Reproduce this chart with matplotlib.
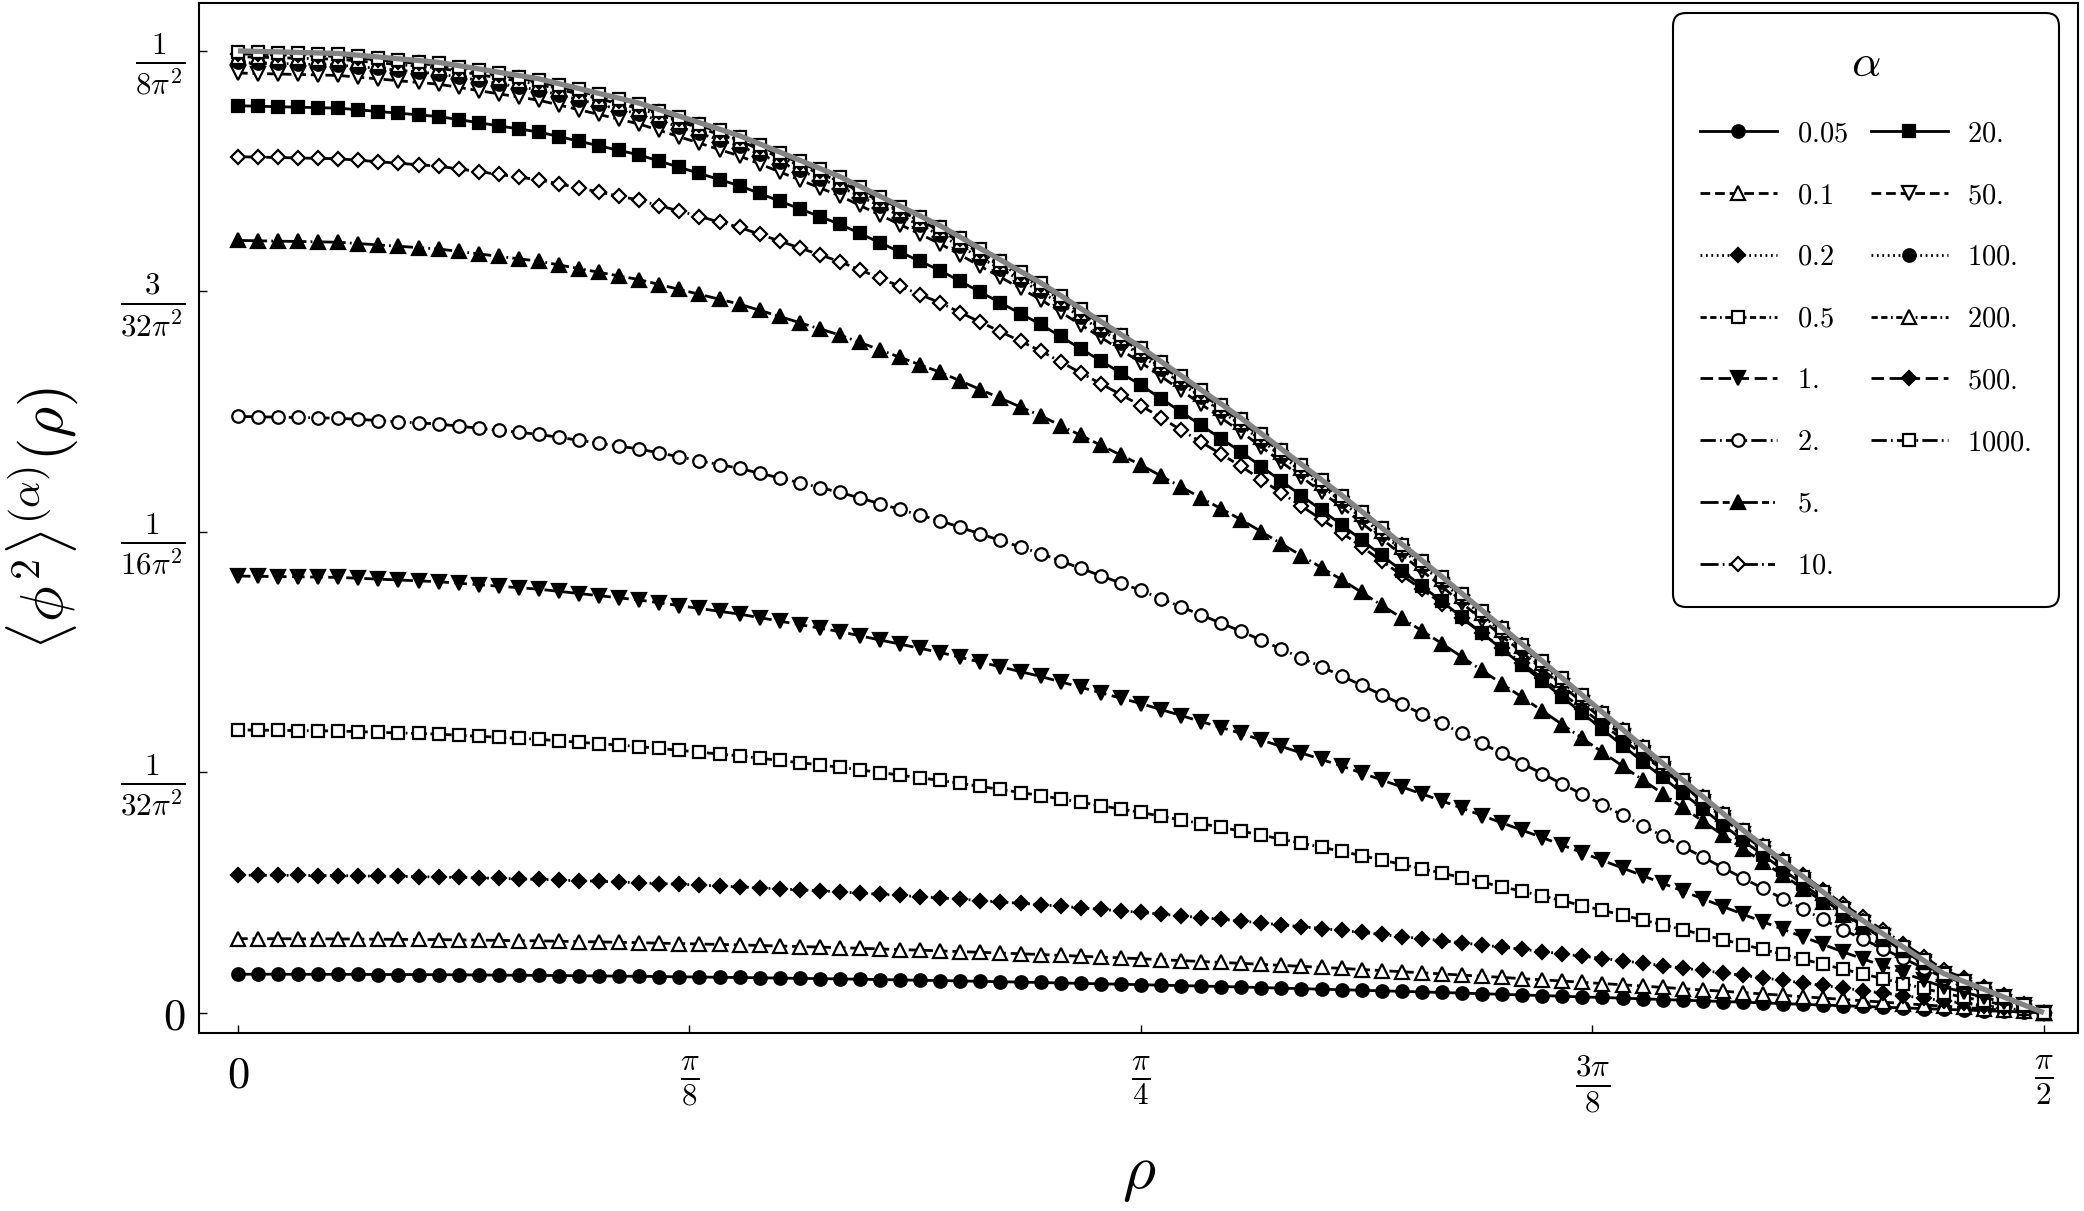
import numpy as np
import matplotlib
matplotlib.use("Agg")
import matplotlib.pyplot as plt
from matplotlib.lines import Line2D

plt.rcParams["mathtext.fontset"] = "cm"
plt.rcParams["font.family"] = "DejaVu Serif"
plt.rcParams["lines.scale_dashes"] = False

# sample points, one degree apart from 0 to pi/2
rho_deg = np.arange(0, 91)
rho = np.deg2rad(rho_deg)

# <phi^2> in units of 1e-3 / (8 pi^2)
a005 = [40.0, 40.0, 40.0, 39.9, 39.9, 39.9, 39.8, 39.7, 39.7, 39.6,
        39.5, 39.4, 39.2, 39.1, 38.9, 38.8, 38.6, 38.4, 38.2, 38.0,
        37.8, 37.6, 37.3, 37.1, 36.8, 36.6, 36.3, 36.0, 35.7, 35.4,
        35.1, 34.8, 34.4, 34.1, 33.7, 33.4, 33.0, 32.6, 32.2, 31.8,
        31.4, 30.9, 30.5, 30.0, 29.6, 29.1, 28.6, 28.1, 27.7, 27.2,
        26.7, 26.1, 25.5, 25.0, 24.4, 23.9, 23.3, 22.7, 22.2, 21.6,
        21.0, 20.4, 19.7, 19.1, 18.4, 17.8, 17.1, 16.4, 15.8, 15.1,
        14.4, 13.7, 13.0, 12.3, 11.6, 10.9, 10.2, 9.4, 8.7, 7.9,
        7.2, 6.5, 5.7, 5.0, 4.2, 3.5, 2.8, 2.1, 1.4, 0.7, 0.0]
a01 = [77.0, 76.9, 76.9, 76.8, 76.8, 76.7, 76.6, 76.4, 76.3, 76.1,
       76.0, 75.7, 75.5, 75.2, 74.9, 74.7, 74.3, 73.9, 73.6, 73.2,
       72.8, 72.3, 71.9, 71.4, 71.0, 70.5, 69.9, 69.3, 68.8, 68.2,
       67.6, 67.0, 66.3, 65.6, 65.0, 64.3, 63.5, 62.8, 62.0, 61.3,
       60.5, 59.6, 58.7, 57.8, 57.0, 56.1, 55.1, 54.2, 53.2, 52.3,
       51.3, 50.3, 49.2, 48.2, 47.1, 46.1, 44.9, 43.8, 42.6, 41.5,
       40.3, 39.1, 37.9, 36.7, 35.4, 34.2, 32.9, 31.6, 30.3, 29.0,
       27.7, 26.3, 25.0, 23.6, 22.3, 20.9, 19.5, 18.1, 16.6, 15.2,
       13.8, 12.4, 11.0, 9.5, 8.1, 6.7, 5.4, 4.0, 2.7, 1.3, 0.0]
a02 = [143.0, 142.9, 142.8, 142.7, 142.6, 142.5, 142.2, 141.9, 141.7, 141.4,
       141.1, 140.6, 140.1, 139.6, 139.1, 138.6, 137.9, 137.2, 136.6, 135.9,
       135.2, 134.3, 133.5, 132.6, 131.8, 130.9, 129.8, 128.8, 127.7, 126.7,
       125.6, 124.4, 123.1, 121.9, 120.6, 119.4, 118.0, 116.6, 115.1, 113.7,
       112.3, 110.7, 109.1, 107.4, 105.8, 104.2, 102.4, 100.6, 98.9, 97.1,
       95.3, 93.3, 91.4, 89.4, 87.5, 85.5, 83.4, 81.3, 79.1, 77.0,
       74.9, 72.6, 70.4, 68.1, 65.9, 63.6, 61.2, 58.8, 56.3, 53.9,
       51.5, 49.0, 46.4, 43.9, 41.3, 38.8, 36.2, 33.6, 30.9, 28.3,
       25.7, 23.0, 20.4, 17.7, 15.1, 12.4, 9.9, 7.4, 5.0, 2.5, 0.0]
a05 = [294.0, 293.8, 293.6, 293.3, 293.1, 292.9, 292.2, 291.6, 290.9, 290.3,
       289.6, 288.5, 287.4, 286.4, 285.3, 284.2, 282.7, 281.2, 279.7, 278.2,
       276.7, 274.8, 272.8, 270.9, 268.9, 267.0, 264.6, 262.3, 259.9, 257.6,
       255.2, 252.5, 249.7, 247.0, 244.2, 241.5, 238.4, 235.2, 232.1, 228.9,
       225.8, 222.3, 218.8, 215.2, 211.7, 208.2, 204.3, 200.4, 196.6, 192.7,
       188.8, 184.6, 180.4, 176.2, 172.0, 167.8, 163.3, 158.8, 154.2, 149.7,
       145.2, 140.4, 135.7, 130.9, 126.2, 121.4, 116.4, 111.4, 106.5, 101.5,
       96.5, 91.4, 86.3, 81.1, 76.0, 70.9, 65.8, 60.6, 55.5, 50.3,
       45.2, 40.2, 35.3, 30.3, 25.3, 20.3, 16.2, 12.2, 8.1, 4.1, 0.0]
a1 = [454.0, 453.7, 453.4, 453.2, 452.9, 452.6, 451.7, 450.8, 449.9, 449.0,
      448.1, 446.5, 445.0, 443.4, 441.9, 440.3, 438.1, 435.8, 433.6, 431.3,
      429.1, 426.2, 423.2, 420.3, 417.3, 414.4, 410.8, 407.1, 403.5, 399.8,
      396.2, 391.9, 387.5, 383.2, 378.8, 374.5, 369.5, 364.5, 359.6, 354.6,
      349.6, 344.0, 338.3, 332.7, 327.0, 321.4, 315.2, 309.0, 302.7, 296.5,
      290.3, 283.5, 276.8, 270.0, 263.3, 256.5, 249.2, 242.0, 234.7, 227.5,
      220.2, 212.6, 205.0, 197.3, 189.7, 182.1, 174.2, 166.3, 158.3, 150.4,
      142.5, 134.5, 126.5, 118.4, 110.4, 102.4, 94.5, 86.7, 78.8, 71.0,
      63.1, 55.8, 48.5, 41.3, 34.0, 26.7, 21.4, 16.0, 10.7, 5.3, 0.0]
a2 = [620.0, 619.6, 619.2, 618.9, 618.5, 618.1, 616.9, 615.7, 614.4, 613.2,
      612.0, 609.9, 607.7, 605.6, 603.4, 601.3, 598.2, 595.2, 592.1, 589.1,
      586.0, 582.0, 578.0, 573.9, 569.9, 565.9, 560.9, 556.0, 551.0, 546.0,
      541.0, 535.1, 529.2, 523.2, 517.3, 511.4, 504.6, 497.8, 491.0, 484.2,
      477.4, 469.7, 462.0, 454.4, 446.7, 439.0, 430.5, 422.0, 413.5, 405.0,
      396.5, 387.3, 378.0, 368.8, 359.5, 350.3, 340.4, 330.5, 320.6, 310.7,
      300.8, 290.4, 279.9, 269.5, 259.0, 248.6, 237.8, 227.0, 216.2, 205.4,
      194.6, 183.7, 172.7, 161.8, 150.8, 139.9, 129.2, 118.4, 107.7, 96.9,
      86.2, 76.3, 66.3, 56.4, 46.4, 36.5, 29.2, 21.9, 14.6, 7.3, 0.0]
a5 = [803.0, 802.6, 802.2, 801.9, 801.5, 801.1, 799.7, 798.3, 796.9, 795.5,
      794.1, 791.5, 789.0, 786.4, 783.9, 781.3, 777.5, 773.7, 769.8, 766.0,
      762.2, 757.1, 752.0, 746.9, 741.8, 736.7, 730.3, 723.9, 717.4, 711.0,
      704.6, 696.9, 689.1, 681.4, 673.6, 665.9, 656.9, 647.9, 638.8, 629.8,
      620.8, 610.5, 600.3, 590.0, 579.8, 569.5, 558.1, 546.7, 535.3, 523.9,
      512.5, 500.1, 487.6, 475.2, 462.7, 450.3, 437.0, 423.7, 410.4, 397.1,
      383.8, 369.8, 355.8, 341.9, 327.9, 313.9, 299.5, 285.2, 270.8, 256.5,
      242.1, 227.8, 213.4, 199.1, 184.7, 170.4, 156.6, 142.9, 129.1, 115.4,
      101.6, 89.4, 77.1, 64.9, 52.6, 40.4, 32.3, 24.2, 16.2, 8.1, 0.0]
a10 = [890.0, 889.6, 889.2, 888.7, 888.3, 887.9, 886.3, 884.8, 883.2, 881.7,
       880.1, 877.3, 874.5, 871.6, 868.8, 866.0, 861.8, 857.5, 853.3, 849.0,
       844.8, 839.1, 833.5, 827.8, 822.2, 816.5, 809.4, 802.3, 795.1, 788.0,
       780.9, 772.3, 763.7, 755.2, 746.6, 738.0, 728.0, 718.0, 708.1, 698.1,
       688.1, 676.7, 665.3, 654.0, 642.6, 631.2, 618.6, 605.9, 593.3, 580.6,
       568.0, 554.2, 540.4, 526.7, 512.9, 499.1, 484.4, 469.6, 454.9, 440.1,
       425.4, 409.9, 394.4, 378.9, 363.4, 347.9, 332.0, 316.1, 300.1, 284.2,
       268.3, 252.4, 236.5, 220.7, 204.8, 188.9, 173.6, 158.4, 143.1, 127.8,
       112.6, 99.0, 85.5, 71.9, 58.4, 44.8, 35.8, 26.9, 17.9, 9.0, 0.0]
a20 = [943.0, 942.5, 942.0, 941.5, 941.0, 940.5, 938.8, 937.0, 935.3, 933.5,
       931.8, 928.6, 925.4, 922.1, 918.9, 915.7, 910.9, 906.1, 901.3, 896.6,
       891.8, 885.4, 879.0, 872.6, 866.2, 859.8, 851.8, 843.8, 835.8, 827.8,
       819.8, 810.2, 800.5, 790.9, 781.2, 771.6, 760.4, 749.2, 738.1, 726.9,
       715.7, 703.1, 690.4, 677.8, 665.1, 652.5, 638.6, 624.7, 610.7, 596.8,
       582.9, 567.8, 552.7, 537.6, 522.5, 507.4, 491.4, 475.5, 459.5, 443.6,
       427.6, 411.0, 394.5, 377.9, 361.4, 344.8, 328.0, 311.3, 294.5, 277.8,
       261.0, 244.6, 228.2, 211.9, 195.5, 179.1, 163.9, 148.6, 133.4, 118.2,
       102.9, 90.0, 77.1, 64.2, 51.3, 38.4, 30.7, 23.0, 15.4, 7.7, 0.0]
a50 = [977.0, 976.5, 976.0, 975.5, 975.0, 974.5, 972.7, 970.9, 969.0, 967.2,
       965.4, 962.1, 958.7, 955.4, 952.0, 948.7, 943.8, 938.8, 933.9, 928.9,
       924.0, 917.4, 910.7, 904.1, 897.4, 890.8, 882.5, 874.2, 865.9, 857.6,
       849.3, 839.3, 829.3, 819.4, 809.4, 799.4, 787.8, 776.2, 764.7, 753.1,
       741.5, 728.4, 715.3, 702.2, 689.1, 676.0, 661.6, 647.2, 632.7, 618.3,
       603.9, 588.3, 572.6, 557.0, 541.3, 525.7, 509.2, 492.6, 476.1, 459.5,
       443.0, 425.8, 408.7, 391.5, 374.4, 357.2, 339.8, 322.5, 305.1, 287.8,
       270.4, 253.4, 236.4, 219.5, 202.5, 185.5, 169.7, 153.9, 138.2, 122.4,
       106.6, 93.2, 79.9, 66.5, 53.2, 39.8, 31.8, 23.9, 15.9, 8.0, 0.0]
a100 = [988.0, 987.5, 987.0, 986.4, 985.9, 985.4, 983.6, 981.8, 979.9, 978.1,
        976.2, 972.9, 969.5, 966.0, 962.7, 959.3, 954.3, 949.4, 944.3, 939.4,
        934.3, 927.6, 920.9, 914.3, 907.6, 900.9, 892.5, 884.1, 875.7, 867.3,
        858.9, 848.8, 838.7, 828.5, 818.5, 808.4, 796.7, 785.0, 773.3, 761.6,
        749.9, 736.7, 723.4, 710.1, 696.8, 683.6, 669.0, 654.5, 639.8, 625.3,
        610.7, 594.9, 579.1, 563.3, 547.5, 531.6, 514.9, 498.2, 481.5, 464.7,
        448.0, 430.6, 413.3, 395.9, 378.6, 361.2, 343.6, 326.1, 308.6, 291.1,
        273.5, 256.3, 239.1, 222.0, 204.8, 187.6, 171.6, 155.7, 139.7, 123.8,
        107.8, 94.3, 80.7, 67.3, 53.7, 40.2, 32.2, 24.1, 16.1, 8.0, 0.0]
a200 = [994.0, 993.5, 993.0, 992.4, 991.9, 991.4, 989.5, 987.7, 985.8, 984.1,
        982.2, 978.8, 975.4, 971.9, 968.6, 965.2, 960.1, 955.1, 950.1, 945.1,
        940.0, 933.3, 926.5, 919.8, 913.1, 906.3, 897.9, 889.4, 881.0, 872.5,
        864.1, 853.9, 843.8, 833.6, 823.4, 813.3, 801.6, 789.7, 778.0, 766.2,
        754.4, 741.1, 727.8, 714.4, 701.1, 687.7, 673.0, 658.4, 643.7, 629.1,
        614.4, 598.5, 582.6, 566.7, 550.8, 534.9, 518.1, 501.2, 484.4, 467.5,
        450.7, 433.2, 415.8, 398.3, 380.9, 363.4, 345.7, 328.1, 310.4, 292.8,
        275.1, 257.8, 240.5, 223.3, 206.1, 188.8, 172.7, 156.7, 140.6, 124.5,
        108.4, 94.8, 81.2, 67.7, 54.1, 40.5, 32.4, 24.3, 16.2, 8.1, 0.0]
a500 = [997.0, 996.5, 996.0, 995.4, 994.9, 994.4, 992.5, 990.7, 988.8, 987.0,
        985.1, 981.7, 978.4, 974.9, 971.5, 968.1, 963.0, 958.0, 953.0, 948.0,
        942.9, 936.1, 929.3, 922.6, 915.8, 909.1, 900.6, 892.1, 883.6, 875.2,
        866.7, 856.5, 846.4, 836.1, 825.9, 815.7, 804.0, 792.1, 780.4, 768.5,
        756.7, 743.4, 730.0, 716.5, 703.2, 689.8, 675.1, 660.4, 645.7, 631.0,
        616.2, 600.3, 584.3, 568.4, 552.4, 536.5, 519.6, 502.7, 485.8, 468.9,
        452.0, 434.5, 417.0, 399.5, 382.1, 364.5, 346.8, 329.1, 311.4, 293.7,
        276.0, 258.6, 241.3, 224.0, 206.7, 189.3, 173.2, 157.1, 141.0, 124.9,
        108.8, 95.1, 81.5, 67.9, 54.2, 40.6, 32.5, 24.3, 16.3, 8.1, 0.0]
a1000 = [999.0, 998.5, 998.0, 997.4, 996.9, 996.4, 994.5, 992.7, 990.8, 989.0,
         987.1, 983.7, 980.3, 976.8, 973.4, 970.0, 964.9, 959.9, 954.8, 949.8,
         944.8, 938.0, 931.2, 924.5, 917.7, 910.9, 902.4, 893.9, 885.4, 876.9,
         868.4, 858.2, 848.1, 837.8, 827.6, 817.4, 805.6, 793.7, 781.9, 770.0,
         758.2, 744.9, 731.5, 718.0, 704.6, 691.2, 676.4, 661.7, 647.0, 632.3,
         617.5, 601.5, 585.5, 569.5, 553.5, 537.6, 520.7, 503.7, 486.8, 469.8,
         452.9, 435.4, 417.9, 400.3, 382.8, 365.2, 347.5, 329.8, 312.0, 294.3,
         276.5, 259.1, 241.8, 224.5, 207.1, 189.7, 173.5, 157.4, 141.3, 125.2,
         109.0, 95.3, 81.6, 68.0, 54.3, 40.7, 32.6, 24.4, 16.3, 8.1, 0.0]
# limiting curve (grey, no markers)
limit = [1000.0, 999.5, 999.0, 998.4, 997.9, 997.4, 995.5, 993.7, 991.8, 990.0,
         988.1, 984.7, 981.3, 977.8, 974.4, 971.0, 965.9, 960.9, 955.8, 950.8,
         945.7, 938.9, 932.1, 925.4, 918.6, 911.8, 903.3, 894.8, 886.3, 877.8,
         869.3, 859.1, 848.9, 838.6, 828.4, 818.2, 806.4, 794.5, 782.7, 770.8,
         759.0, 745.6, 732.2, 718.7, 705.3, 691.9, 677.1, 662.4, 647.6, 632.9,
         618.1, 602.1, 586.1, 570.1, 554.1, 538.1, 521.2, 504.2, 487.3, 470.3,
         453.4, 435.8, 418.3, 400.7, 383.2, 365.6, 347.8, 330.1, 312.3, 294.6,
         276.8, 259.4, 242.0, 224.7, 207.3, 189.9, 173.7, 157.6, 141.4, 125.3,
         109.1, 95.4, 81.7, 68.1, 54.4, 40.7, 32.6, 24.4, 16.3, 8.1, 0.0]

alpha_labels = ["0.05", "0.1", "0.2", "0.5", "1.", "2.", "5.", "10.",
                "20.", "50.", "100.", "200.", "500.", "1000."]
series = [a005, a01, a02, a05, a1, a2, a5, a10,
          a20, a50, a100, a200, a500, a1000]

# line styles (dash lengths in points)
solid = "-"
dashed = (0, (7, 3.5))
dotted = (0, (1.3, 2.6))
dashdash_dot = (0, (4.5, 2.5, 4.5, 2.5, 1.3, 2.5))
long_dash = (0, (9, 4))
long_dash_dot = (0, (11, 3, 1.3, 3))
dash_a = (0, (13, 3, 5, 3, 1.3, 3))
dash_b = (0, (13, 3, 1.3, 3, 5, 3))
styles = [solid, dashed, dotted, dashdash_dot, long_dash, long_dash_dot, dash_a, dash_b,
          solid, dashed, dotted, dashdash_dot, long_dash, long_dash_dot]
markers = ["o", "^", "D", "s", "v", "o", "^", "D", "s", "v", "o", "^", "D", "s"]
filled = [True, False, True, False, True, False, True, False,
          True, False, True, False, True, False]
msize = {"o": 9.0, "^": 9.8, "v": 9.8, "D": 7.2, "s": 8.0}

fig = plt.figure(figsize=(20.84, 12.11), dpi=100)
ax = fig.add_axes([0.0957, 0.147, 0.9014, 0.8505])

lines = []
for lab, vals, ls, m, f in zip(alpha_labels, series, styles, markers, filled):
    ln, = ax.plot(rho, np.array(vals) / 1000.0, color="black", lw=2.0, ls=ls,
                  marker=m, ms=msize[m], mfc="black" if f else "white",
                  mec="black", mew=1.6, label="$" + lab + "$")
    lines.append(ln)

ax.plot(rho, np.array(limit) / 1000.0, color="#848484", lw=3.8, zorder=5,
        solid_capstyle="butt")

ax.set_xlim(-0.0335, 1.6004)
ax.set_ylim(-0.0211, 1.0498)

ax.set_xticks([0, np.pi / 8, np.pi / 4, 3 * np.pi / 8, np.pi / 2])
ax.set_xticklabels([r"$0$", r"$\frac{\pi}{8}$", r"$\frac{\pi}{4}$",
                    r"$\frac{3\pi}{8}$", r"$\frac{\pi}{2}$"])
ax.set_yticks([0, 0.25, 0.5, 0.75, 1.0])
ax.set_yticklabels([r"$0$", r"$\frac{1}{32\pi^2}$", r"$\frac{1}{16\pi^2}$",
                    r"$\frac{3}{32\pi^2}$", r"$\frac{1}{8\pi^2}$"])
ax.tick_params(direction="in", length=6, width=1.0, labelsize=32)
ax.tick_params(axis="x", pad=15)
ax.tick_params(axis="y", pad=10)
for sp in ax.spines.values():
    sp.set_linewidth(1.5)

fig.text(0.0204, 0.5714, r"$\langle\phi^2\rangle^{(\alpha)}(\rho)$",
         rotation=90, ha="center", va="center", fontsize=43)
fig.text(0.5465, 0.0314, r"$\rho$", ha="center", va="center", fontsize=46)

# two blank entries so the legend columns hold 8 and 6 items
blank = Line2D([], [], linestyle="none", marker="none")
handles = lines[:8] + lines[8:] + [blank, blank]
labels = [ln.get_label() for ln in lines] + ["", ""]
leg = ax.legend(handles, labels, ncol=2, loc="upper right",
                bbox_to_anchor=(0.9899, 0.990), borderaxespad=0,
                fontsize=20.5, title=r"$\alpha$", title_fontsize=33,
                handlelength=2.7, handletextpad=0.7, columnspacing=0.8,
                labelspacing=1.22, borderpad=0.95, fancybox=True,
                framealpha=1, edgecolor="black")
leg.get_frame().set_linewidth(1.5)
leg.get_frame().set_boxstyle("round,pad=0,rounding_size=0.45")

fig.savefig("out.png", dpi=100)
